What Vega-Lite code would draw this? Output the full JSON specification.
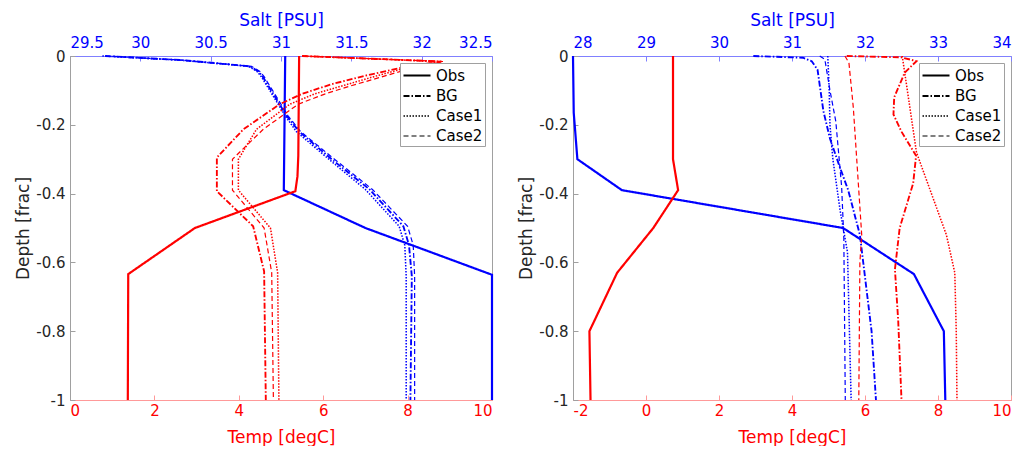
{
"$schema": "https://vega.github.io/schema/vega-lite/v6.json",
"padding": {"left": 14, "top": 10, "right": 5, "bottom": 0},
"spacing": 20,
"config": {
  "font": "DejaVu Sans",
  "view": {"stroke": "#a0a0a0", "strokeWidth": 1},
  "axis": {"labelFontSize": 15, "titleFontSize": 17, "titleFontWeight": "normal", "labelColor": "#262626", "titleColor": "#262626", "grid": false, "tickColor": "#a0a0a0", "domainColor": "#a0a0a0", "tickSize": -5, "labelPadding": 10, "titlePadding": 3},
  "legend": {"orient": "top-right", "title": null, "offset": 7, "fillColor": "white", "strokeColor": "#a0a0a0", "padding": 2, "labelFontSize": 15, "labelColor": "#000000", "symbolType": "M-1,0H2", "symbolStrokeColor": "black", "symbolStrokeWidth": 1.5, "symbolSize": 324, "rowPadding": 2, "labelOffset": 13},
  "line": {"clip": true}
},
"resolve": {"scale": {"strokeDash": "independent", "strokeWidth": "independent"}, "legend": {"strokeDash": "independent"}},
"datasets": {"d": [
{"p":"L","v":"t","c":"Obs","d":0,"x":5.43},{"p":"L","v":"t","c":"Obs","d":-0.29,"x":5.41},{"p":"L","v":"t","c":"Obs","d":-0.35,"x":5.39},{"p":"L","v":"t","c":"Obs","d":-0.393,"x":5.34},{"p":"L","v":"t","c":"Obs","d":-0.5,"x":2.96},{"p":"L","v":"t","c":"Obs","d":-0.634,"x":1.38},{"p":"L","v":"t","c":"Obs","d":-1,"x":1.37},
{"p":"L","v":"t","c":"BG","d":0,"x":5.5},{"p":"L","v":"t","c":"BG","d":-0.016,"x":8.8},{"p":"L","v":"t","c":"BG","d":-0.033,"x":7.9},{"p":"L","v":"t","c":"BG","d":-0.057,"x":7.0},{"p":"L","v":"t","c":"BG","d":-0.082,"x":6.2},{"p":"L","v":"t","c":"BG","d":-0.11,"x":5.5},{"p":"L","v":"t","c":"BG","d":-0.14,"x":4.97},{"p":"L","v":"t","c":"BG","d":-0.213,"x":4.11},{"p":"L","v":"t","c":"BG","d":-0.295,"x":3.48},{"p":"L","v":"t","c":"BG","d":-0.393,"x":3.48},{"p":"L","v":"t","c":"BG","d":-0.495,"x":4.34},{"p":"L","v":"t","c":"BG","d":-0.626,"x":4.6},{"p":"L","v":"t","c":"BG","d":-1,"x":4.64},
{"p":"L","v":"t","c":"Case1","d":0,"x":5.5},{"p":"L","v":"t","c":"Case1","d":-0.016,"x":8.75},{"p":"L","v":"t","c":"Case1","d":-0.035,"x":7.95},{"p":"L","v":"t","c":"Case1","d":-0.06,"x":7.2},{"p":"L","v":"t","c":"Case1","d":-0.085,"x":6.5},{"p":"L","v":"t","c":"Case1","d":-0.11,"x":5.8},{"p":"L","v":"t","c":"Case1","d":-0.14,"x":5.21},{"p":"L","v":"t","c":"Case1","d":-0.213,"x":4.42},{"p":"L","v":"t","c":"Case1","d":-0.3,"x":3.99},{"p":"L","v":"t","c":"Case1","d":-0.39,"x":3.99},{"p":"L","v":"t","c":"Case1","d":-0.5,"x":4.75},{"p":"L","v":"t","c":"Case1","d":-0.63,"x":4.92},{"p":"L","v":"t","c":"Case1","d":-1,"x":4.95},
{"p":"L","v":"t","c":"Case2","d":0,"x":5.5},{"p":"L","v":"t","c":"Case2","d":-0.016,"x":8.85},{"p":"L","v":"t","c":"Case2","d":-0.037,"x":8.05},{"p":"L","v":"t","c":"Case2","d":-0.062,"x":7.35},{"p":"L","v":"t","c":"Case2","d":-0.087,"x":6.65},{"p":"L","v":"t","c":"Case2","d":-0.11,"x":6.05},{"p":"L","v":"t","c":"Case2","d":-0.14,"x":5.41},{"p":"L","v":"t","c":"Case2","d":-0.213,"x":4.58},{"p":"L","v":"t","c":"Case2","d":-0.3,"x":3.85},{"p":"L","v":"t","c":"Case2","d":-0.39,"x":3.85},{"p":"L","v":"t","c":"Case2","d":-0.5,"x":4.6},{"p":"L","v":"t","c":"Case2","d":-0.63,"x":4.78},{"p":"L","v":"t","c":"Case2","d":-1,"x":4.82},
{"p":"L","v":"s","c":"Obs","d":0,"x":31.03},{"p":"L","v":"s","c":"Obs","d":-0.39,"x":31.02},{"p":"L","v":"s","c":"Obs","d":-0.5,"x":31.6},{"p":"L","v":"s","c":"Obs","d":-0.636,"x":32.5},{"p":"L","v":"s","c":"Obs","d":-1,"x":32.5},
{"p":"L","v":"s","c":"BG","d":0,"x":29.75},{"p":"L","v":"s","c":"BG","d":-0.012,"x":30.3},{"p":"L","v":"s","c":"BG","d":-0.03,"x":30.78},{"p":"L","v":"s","c":"BG","d":-0.045,"x":30.84},{"p":"L","v":"s","c":"BG","d":-0.06,"x":30.87},{"p":"L","v":"s","c":"BG","d":-0.1,"x":30.93},{"p":"L","v":"s","c":"BG","d":-0.174,"x":31.04},{"p":"L","v":"s","c":"BG","d":-0.22,"x":31.13},{"p":"L","v":"s","c":"BG","d":-0.3,"x":31.36},{"p":"L","v":"s","c":"BG","d":-0.388,"x":31.63},{"p":"L","v":"s","c":"BG","d":-0.495,"x":31.87},{"p":"L","v":"s","c":"BG","d":-0.55,"x":31.91},{"p":"L","v":"s","c":"BG","d":-0.64,"x":31.93},{"p":"L","v":"s","c":"BG","d":-1,"x":31.92},
{"p":"L","v":"s","c":"Case1","d":0,"x":29.73},{"p":"L","v":"s","c":"Case1","d":-0.012,"x":30.28},{"p":"L","v":"s","c":"Case1","d":-0.03,"x":30.77},{"p":"L","v":"s","c":"Case1","d":-0.045,"x":30.83},{"p":"L","v":"s","c":"Case1","d":-0.06,"x":30.86},{"p":"L","v":"s","c":"Case1","d":-0.1,"x":30.92},{"p":"L","v":"s","c":"Case1","d":-0.174,"x":31.03},{"p":"L","v":"s","c":"Case1","d":-0.22,"x":31.11},{"p":"L","v":"s","c":"Case1","d":-0.3,"x":31.34},{"p":"L","v":"s","c":"Case1","d":-0.388,"x":31.6},{"p":"L","v":"s","c":"Case1","d":-0.495,"x":31.84},{"p":"L","v":"s","c":"Case1","d":-0.55,"x":31.88},{"p":"L","v":"s","c":"Case1","d":-0.64,"x":31.89},{"p":"L","v":"s","c":"Case1","d":-1,"x":31.89},
{"p":"L","v":"s","c":"Case2","d":0,"x":29.75},{"p":"L","v":"s","c":"Case2","d":-0.012,"x":30.3},{"p":"L","v":"s","c":"Case2","d":-0.03,"x":30.79},{"p":"L","v":"s","c":"Case2","d":-0.045,"x":30.85},{"p":"L","v":"s","c":"Case2","d":-0.06,"x":30.88},{"p":"L","v":"s","c":"Case2","d":-0.1,"x":30.94},{"p":"L","v":"s","c":"Case2","d":-0.174,"x":31.05},{"p":"L","v":"s","c":"Case2","d":-0.22,"x":31.14},{"p":"L","v":"s","c":"Case2","d":-0.3,"x":31.38},{"p":"L","v":"s","c":"Case2","d":-0.388,"x":31.65},{"p":"L","v":"s","c":"Case2","d":-0.495,"x":31.9},{"p":"L","v":"s","c":"Case2","d":-0.55,"x":31.94},{"p":"L","v":"s","c":"Case2","d":-0.64,"x":31.95},{"p":"L","v":"s","c":"Case2","d":-1,"x":31.95},
{"p":"R","v":"t","c":"Obs","d":0,"x":0.74},{"p":"R","v":"t","c":"Obs","d":-0.3,"x":0.74},{"p":"R","v":"t","c":"Obs","d":-0.39,"x":0.88},{"p":"R","v":"t","c":"Obs","d":-0.5,"x":0.2},{"p":"R","v":"t","c":"Obs","d":-0.63,"x":-0.79},{"p":"R","v":"t","c":"Obs","d":-0.8,"x":-1.55},{"p":"R","v":"t","c":"Obs","d":-1,"x":-1.52},
{"p":"R","v":"t","c":"BG","d":0,"x":5.5},{"p":"R","v":"t","c":"BG","d":-0.004,"x":7.0},{"p":"R","v":"t","c":"BG","d":-0.015,"x":7.41},{"p":"R","v":"t","c":"BG","d":-0.048,"x":7.09},{"p":"R","v":"t","c":"BG","d":-0.12,"x":6.8},{"p":"R","v":"t","c":"BG","d":-0.17,"x":6.78},{"p":"R","v":"t","c":"BG","d":-0.22,"x":7.0},{"p":"R","v":"t","c":"BG","d":-0.29,"x":7.4},{"p":"R","v":"t","c":"BG","d":-0.37,"x":7.32},{"p":"R","v":"t","c":"BG","d":-0.5,"x":6.95},{"p":"R","v":"t","c":"BG","d":-0.62,"x":6.82},{"p":"R","v":"t","c":"BG","d":-0.77,"x":6.91},{"p":"R","v":"t","c":"BG","d":-1,"x":7.0},
{"p":"R","v":"t","c":"Case1","d":0,"x":7.02},{"p":"R","v":"t","c":"Case1","d":-0.1,"x":7.16},{"p":"R","v":"t","c":"Case1","d":-0.28,"x":7.41},{"p":"R","v":"t","c":"Case1","d":-0.52,"x":8.23},{"p":"R","v":"t","c":"Case1","d":-0.63,"x":8.46},{"p":"R","v":"t","c":"Case1","d":-0.8,"x":8.5},{"p":"R","v":"t","c":"Case1","d":-1,"x":8.52},
{"p":"R","v":"t","c":"Case2","d":0,"x":5.45},{"p":"R","v":"t","c":"Case2","d":-0.02,"x":5.56},{"p":"R","v":"t","c":"Case2","d":-0.15,"x":5.68},{"p":"R","v":"t","c":"Case2","d":-0.52,"x":5.91},{"p":"R","v":"t","c":"Case2","d":-0.6,"x":5.86},{"p":"R","v":"t","c":"Case2","d":-1,"x":5.83},
{"p":"R","v":"s","c":"Obs","d":0,"x":28.0},{"p":"R","v":"s","c":"Obs","d":-0.165,"x":28.01},{"p":"R","v":"s","c":"Obs","d":-0.3,"x":28.06},{"p":"R","v":"s","c":"Obs","d":-0.39,"x":28.67},{"p":"R","v":"s","c":"Obs","d":-0.5,"x":31.7},{"p":"R","v":"s","c":"Obs","d":-0.634,"x":32.67},{"p":"R","v":"s","c":"Obs","d":-0.8,"x":33.08},{"p":"R","v":"s","c":"Obs","d":-1,"x":33.1},
{"p":"R","v":"s","c":"BG","d":0,"x":30.47},{"p":"R","v":"s","c":"BG","d":-0.005,"x":31.15},{"p":"R","v":"s","c":"BG","d":-0.015,"x":31.27},{"p":"R","v":"s","c":"BG","d":-0.04,"x":31.35},{"p":"R","v":"s","c":"BG","d":-0.1,"x":31.39},{"p":"R","v":"s","c":"BG","d":-0.16,"x":31.43},{"p":"R","v":"s","c":"BG","d":-0.24,"x":31.52},{"p":"R","v":"s","c":"BG","d":-0.32,"x":31.65},{"p":"R","v":"s","c":"BG","d":-0.39,"x":31.77},{"p":"R","v":"s","c":"BG","d":-0.52,"x":31.93},{"p":"R","v":"s","c":"BG","d":-0.8,"x":32.09},{"p":"R","v":"s","c":"BG","d":-1,"x":32.15},
{"p":"R","v":"s","c":"Case1","d":0,"x":31.49},{"p":"R","v":"s","c":"Case1","d":-0.1,"x":31.51},{"p":"R","v":"s","c":"Case1","d":-0.2,"x":31.52},{"p":"R","v":"s","c":"Case1","d":-0.3,"x":31.56},{"p":"R","v":"s","c":"Case1","d":-0.45,"x":31.66},{"p":"R","v":"s","c":"Case1","d":-0.57,"x":31.76},{"p":"R","v":"s","c":"Case1","d":-1,"x":31.81},
{"p":"R","v":"s","c":"Case2","d":0,"x":31.38},{"p":"R","v":"s","c":"Case2","d":-0.01,"x":31.45},{"p":"R","v":"s","c":"Case2","d":-0.1,"x":31.52},{"p":"R","v":"s","c":"Case2","d":-0.19,"x":31.6},{"p":"R","v":"s","c":"Case2","d":-0.38,"x":31.68},{"p":"R","v":"s","c":"Case2","d":-0.53,"x":31.71},{"p":"R","v":"s","c":"Case2","d":-1,"x":31.73}
]},
"hconcat": [
{
  "width": 422, "height": 344,
  "data": {"name": "d"},
  "transform": [{"filter": "datum.p == 'L'"}],
  "resolve": {"scale": {"x": "independent"}, "axis": {"x": "independent"}},
  "layer": [
    {"transform": [{"filter": "datum.v == 's'"}],
     "mark": {"type": "line", "color": "#0000ff"},
     "encoding": {
       "x": {"field": "x", "type": "quantitative", "scale": {"domain": [29.5, 32.5], "nice": false, "zero": false},
             "axis": {"orient": "top", "title": "Salt [PSU]", "values": [29.5, 30, 30.5, 31, 31.5, 32, 32.5], "labelExpr": "'' + datum.value", "labelColor": "#0000ff", "titleColor": "#0000ff", "domainColor": "#8080ff", "tickColor": "#8080ff", "labelPadding": 11, "titlePadding": 6}},
       "y": {"field": "d", "type": "quantitative", "scale": {"domain": [-1, 0], "nice": false}, "axis": {"title": "Depth [frac]", "values": [0, -0.2, -0.4, -0.6, -0.8, -1], "labelExpr": "'' + datum.value"}},
       "strokeDash": {"field": "c", "type": "nominal", "scale": {"domain": ["Obs", "BG", "Case1", "Case2"], "range": [[1, 0], [6, 2, 1.5, 2], [1.5, 1.5], [5, 3]]},
                      "legend": {"encode": {"symbols": {"update": {"stroke": {"value": "black"}, "strokeWidth": {"value": 1.5}}}}}},
       "strokeWidth": {"field": "c", "type": "nominal", "scale": {"domain": ["Obs", "BG", "Case1", "Case2"], "range": [2.2, 1.2, 1.2, 1.2]}, "legend": null},
       "order": {"field": "d", "sort": "descending"}
     }},
    {"transform": [{"filter": "datum.v == 't'"}],
     "mark": {"type": "line", "color": "#ff0000"},
     "encoding": {
       "x": {"field": "x", "type": "quantitative", "scale": {"domain": [0, 10], "nice": false},
             "axis": {"orient": "bottom", "title": "Temp [degC]", "values": [0, 2, 4, 6, 8, 10], "labelExpr": "'' + datum.value", "labelColor": "#ff0000", "titleColor": "#ff0000", "domainColor": "#ff9999", "tickColor": "#ff9999", "labelPadding": 8, "titlePadding": 11}},
       "y": {"field": "d", "type": "quantitative"},
       "strokeDash": {"field": "c", "type": "nominal"},
       "strokeWidth": {"field": "c", "type": "nominal", "legend": null},
       "order": {"field": "d", "sort": "descending"}
     }}
  ]
},
{
  "width": 438, "height": 344,
  "data": {"name": "d"},
  "transform": [{"filter": "datum.p == 'R'"}],
  "resolve": {"scale": {"x": "independent"}, "axis": {"x": "independent"}},
  "layer": [
    {"transform": [{"filter": "datum.v == 's'"}],
     "mark": {"type": "line", "color": "#0000ff"},
     "encoding": {
       "x": {"field": "x", "type": "quantitative", "scale": {"domain": [28, 34], "nice": false, "zero": false},
             "axis": {"orient": "top", "title": "Salt [PSU]", "values": [28, 29, 30, 31, 32, 33, 34], "labelExpr": "'' + datum.value", "labelColor": "#0000ff", "titleColor": "#0000ff", "domainColor": "#8080ff", "tickColor": "#8080ff", "labelPadding": 11, "titlePadding": 6}},
       "y": {"field": "d", "type": "quantitative", "scale": {"domain": [-1, 0], "nice": false}, "axis": {"title": "Depth [frac]", "values": [0, -0.2, -0.4, -0.6, -0.8, -1], "labelExpr": "'' + datum.value"}},
       "strokeDash": {"field": "c", "type": "nominal", "scale": {"domain": ["Obs", "BG", "Case1", "Case2"], "range": [[1, 0], [6, 2, 1.5, 2], [1.5, 1.5], [5, 3]]},
                      "legend": {"encode": {"symbols": {"update": {"stroke": {"value": "black"}, "strokeWidth": {"value": 1.5}}}}}},
       "strokeWidth": {"field": "c", "type": "nominal", "scale": {"domain": ["Obs", "BG", "Case1", "Case2"], "range": [2.2, 1.2, 1.2, 1.2]}, "legend": null},
       "order": {"field": "d", "sort": "descending"}
     }},
    {"transform": [{"filter": "datum.v == 't'"}],
     "mark": {"type": "line", "color": "#ff0000"},
     "encoding": {
       "x": {"field": "x", "type": "quantitative", "scale": {"domain": [-2, 10], "nice": false, "zero": false},
             "axis": {"orient": "bottom", "title": "Temp [degC]", "values": [-2, 0, 2, 4, 6, 8, 10], "labelExpr": "'' + datum.value", "labelColor": "#ff0000", "titleColor": "#ff0000", "domainColor": "#ff9999", "tickColor": "#ff9999", "labelPadding": 8, "titlePadding": 11}},
       "y": {"field": "d", "type": "quantitative"},
       "strokeDash": {"field": "c", "type": "nominal"},
       "strokeWidth": {"field": "c", "type": "nominal", "legend": null},
       "order": {"field": "d", "sort": "descending"}
     }}
  ]
}
]
}
